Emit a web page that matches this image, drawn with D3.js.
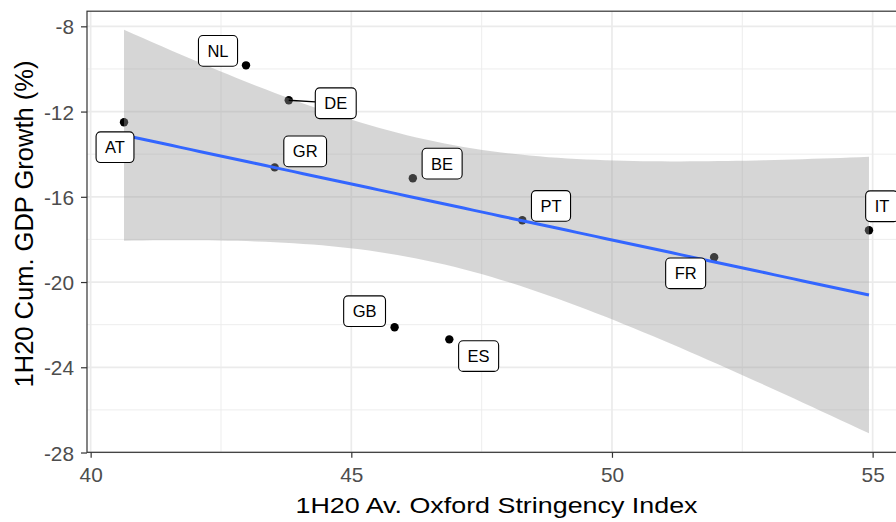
<!DOCTYPE html>
<html>
<head>
<meta charset="utf-8">
<script src="https://cdn.jsdelivr.net/npm/d3@7/dist/d3.min.js"></script>
<style>
  html, body { margin: 0; padding: 0; background: #ffffff; overflow: hidden; }
  svg { display: block; font-family: "Liberation Sans", Arial, Helvetica, sans-serif; }
</style>
</head>
<body>
<svg id="chart" width="896" height="522"></svg>
<script>
// ---- data -------------------------------------------------------------
const countries  = ["NL", "DE", "AT", "GR", "BE", "PT", "FR", "IT", "GB", "ES"];
const stringency = [42.98, 43.80, 40.64, 43.53, 46.18, 48.28, 51.96, 54.93, 45.83, 46.88];
const gdpGrowth  = [-9.83, -11.47, -12.50, -14.62, -15.13, -17.10, -18.84, -17.57, -22.12, -22.69];

const xTicks = [40, 45, 50, 55];
const yTicks = [-8, -12, -16, -20, -24, -28];
const xMinorTicks = [42.5, 47.5, 52.5];
const yMinorTicks = [-10, -14, -18, -22, -26];

const xTitle = "1H20 Av. Oxford Stringency Index";
const yTitle = "1H20 Cum. GDP Growth (%)";

// ---- layout -----------------------------------------------------------
// label box centre offsets (px) from their point, as placed by the repel step
const labelOffsets = [
  [-28, -14.5], [47, 3], [-9, 25], [30.5, -16], [29.3, -14.6],
  [28.7, -14.3], [-28.5, 16], [13, -24], [-30, -16], [29.3, 16.7]
];

const panel = { left: 87, right: 906, top: 11.2, bottom: 452.3 };
const xDomain = [39.93, 55.64];
const yDomain = [-27.99, -7.29];

const svg = d3.select("#chart");
const x = d3.scaleLinear().domain(xDomain).range([panel.left, panel.right]);
const y = d3.scaleLinear().domain(yDomain).range([panel.bottom, panel.top]);

const points = countries.map((c, i) => ({ id: c, x: stringency[i], y: gdpGrowth[i], off: labelOffsets[i] }));

// ---- linear fit with 95% confidence band ------------------------------
const n = points.length;
const mx = d3.mean(points, d => d.x);
const my = d3.mean(points, d => d.y);
const sxx = d3.sum(points, d => (d.x - mx) ** 2);
const sxy = d3.sum(points, d => (d.x - mx) * (d.y - my));
const slope = sxy / sxx;
const intercept = my - slope * mx;
const sse = d3.sum(points, d => (d.y - (intercept + slope * d.x)) ** 2);
const sigma = Math.sqrt(sse / (n - 2));
const tCrit = 2.306004; // two-sided 95%, df = n - 2 = 8
const [xmin, xmax] = d3.extent(points, d => d.x);
const fit = d3.range(80).map(k => {
  const xv = xmin + (xmax - xmin) * k / 79;
  const yv = intercept + slope * xv;
  const se = sigma * Math.sqrt(1 / n + (xv - mx) ** 2 / sxx);
  return { x: xv, y: yv, lo: yv - tCrit * se, hi: yv + tCrit * se };
});

// ---- panel background & grid -----------------------------------------
svg.append("rect")
  .attr("x", panel.left).attr("y", panel.top)
  .attr("width", panel.right - panel.left).attr("height", panel.bottom - panel.top)
  .attr("fill", "#ffffff");

const grid = svg.append("g");
grid.selectAll(".xminor").data(xMinorTicks).join("line")
  .attr("x1", d => x(d)).attr("x2", d => x(d))
  .attr("y1", panel.top).attr("y2", panel.bottom)
  .attr("stroke", "#ebebeb").attr("stroke-width", 0.9);
grid.selectAll(".yminor").data(yMinorTicks).join("line")
  .attr("y1", d => y(d)).attr("y2", d => y(d))
  .attr("x1", panel.left).attr("x2", panel.right)
  .attr("stroke", "#ebebeb").attr("stroke-width", 0.9);
grid.selectAll(".xmajor").data(xTicks).join("line")
  .attr("x1", d => x(d)).attr("x2", d => x(d))
  .attr("y1", panel.top).attr("y2", panel.bottom)
  .attr("stroke", "#ebebeb").attr("stroke-width", 1.7);
grid.selectAll(".ymajor").data(yTicks).join("line")
  .attr("y1", d => y(d)).attr("y2", d => y(d))
  .attr("x1", panel.left).attr("x2", panel.right)
  .attr("stroke", "#ebebeb").attr("stroke-width", 1.7);

// ---- points (drawn beneath the smoother, as in the layer order) ------
svg.append("g").selectAll("circle").data(points).join("circle")
  .attr("cx", d => x(d.x)).attr("cy", d => y(d.y))
  .attr("r", 4.2).attr("fill", "#000000");

// ---- confidence ribbon and fitted line -------------------------------
svg.append("path")
  .datum(fit)
  .attr("d", d3.area().x(d => x(d.x)).y0(d => y(d.lo)).y1(d => y(d.hi)))
  .attr("fill", "#999999").attr("fill-opacity", 0.4);

svg.append("path")
  .datum(fit)
  .attr("d", d3.line().x(d => x(d.x)).y(d => y(d.y)))
  .attr("fill", "none").attr("stroke", "#3366ff").attr("stroke-width", 3);

// ---- labels -----------------------------------------------------------
const labelFont = 16.5;
const labelH = 30.7;
const labels = svg.append("g");
points.forEach(d => {
  const px = x(d.x), py = y(d.y);
  const cx = px + d.off[0], cy = py + d.off[1];
  const g = labels.append("g");
  const seg = g.append("line");
  const box = g.append("rect");
  const txt = g.append("text")
    .attr("x", cx).attr("y", cy + 0.358 * labelFont)
    .attr("text-anchor", "middle")
    .attr("font-size", labelFont).attr("fill", "#000000")
    .text(d.id);
  const w = txt.node().getComputedTextLength() + 18;
  box.attr("x", cx - w / 2).attr("y", cy - labelH / 2)
    .attr("width", w).attr("height", labelH)
    .attr("rx", 4.5).attr("ry", 4.5)
    .attr("fill", "#ffffff").attr("stroke", "#000000").attr("stroke-width", 1.1);
  // leader segment from the point to the nearest box edge, when the gap is large
  const ddx = cx - px, ddy = cy - py;
  const tx = ddx !== 0 ? (Math.abs(ddx) - w / 2) / Math.abs(ddx) : 1;
  const ty = ddy !== 0 ? (Math.abs(ddy) - labelH / 2) / Math.abs(ddy) : 1;
  const t = Math.max(Math.max(Math.min(tx, 1), Math.min(ty, 1)), 0);
  const ex = px + ddx * t, ey = py + ddy * t;
  const gap = Math.hypot(ex - px, ey - py);
  if (gap > 15) {
    seg.attr("x1", px).attr("y1", py).attr("x2", ex).attr("y2", ey)
      .attr("stroke", "#000000").attr("stroke-width", 1.3);
  } else {
    seg.remove();
  }
});

// ---- panel border -----------------------------------------------------
svg.append("rect")
  .attr("x", panel.left).attr("y", panel.top)
  .attr("width", panel.right - panel.left).attr("height", panel.bottom - panel.top)
  .attr("fill", "none").attr("stroke", "#333333").attr("stroke-width", 1.2);

// ---- axes -------------------------------------------------------------
const tickFont = 20.8;
const xAxis = svg.append("g")
  .attr("transform", `translate(0,${panel.bottom})`)
  .call(d3.axisBottom(x).tickValues(xTicks).tickFormat(d3.format("d")).tickSizeOuter(0).tickSize(5.5).tickPadding(9));
const yAxis = svg.append("g")
  .attr("transform", `translate(${panel.left},0)`)
  .call(d3.axisLeft(y).tickValues(yTicks).tickFormat(d => d).tickSizeOuter(0).tickSize(6).tickPadding(7));

[xAxis, yAxis].forEach(a => {
  a.select(".domain").remove();
  a.selectAll(".tick line").attr("stroke", "#333333").attr("stroke-width", 1.2);
  a.selectAll(".tick text")
    .attr("fill", "#4d4d4d")
    .attr("font-size", tickFont)
    .attr("font-family", "\"Liberation Sans\", Arial, Helvetica, sans-serif");
});
yAxis.selectAll(".tick text").attr("dy", "0.36em");

// ---- axis titles --------------------------------------------------------
svg.append("text")
  .attr("x", (panel.left + panel.right) / 2)
  .attr("y", 513.3)
  .attr("text-anchor", "middle")
  .attr("font-size", 22.5).attr("fill", "#000000")
  .attr("textLength", 402).attr("lengthAdjust", "spacingAndGlyphs")
  .text(xTitle);

svg.append("text")
  .attr("transform", `translate(33,224) rotate(-90)`)
  .attr("text-anchor", "middle")
  .attr("font-size", 25.5).attr("fill", "#000000")
  .text(yTitle);
</script>
</body>
</html>
